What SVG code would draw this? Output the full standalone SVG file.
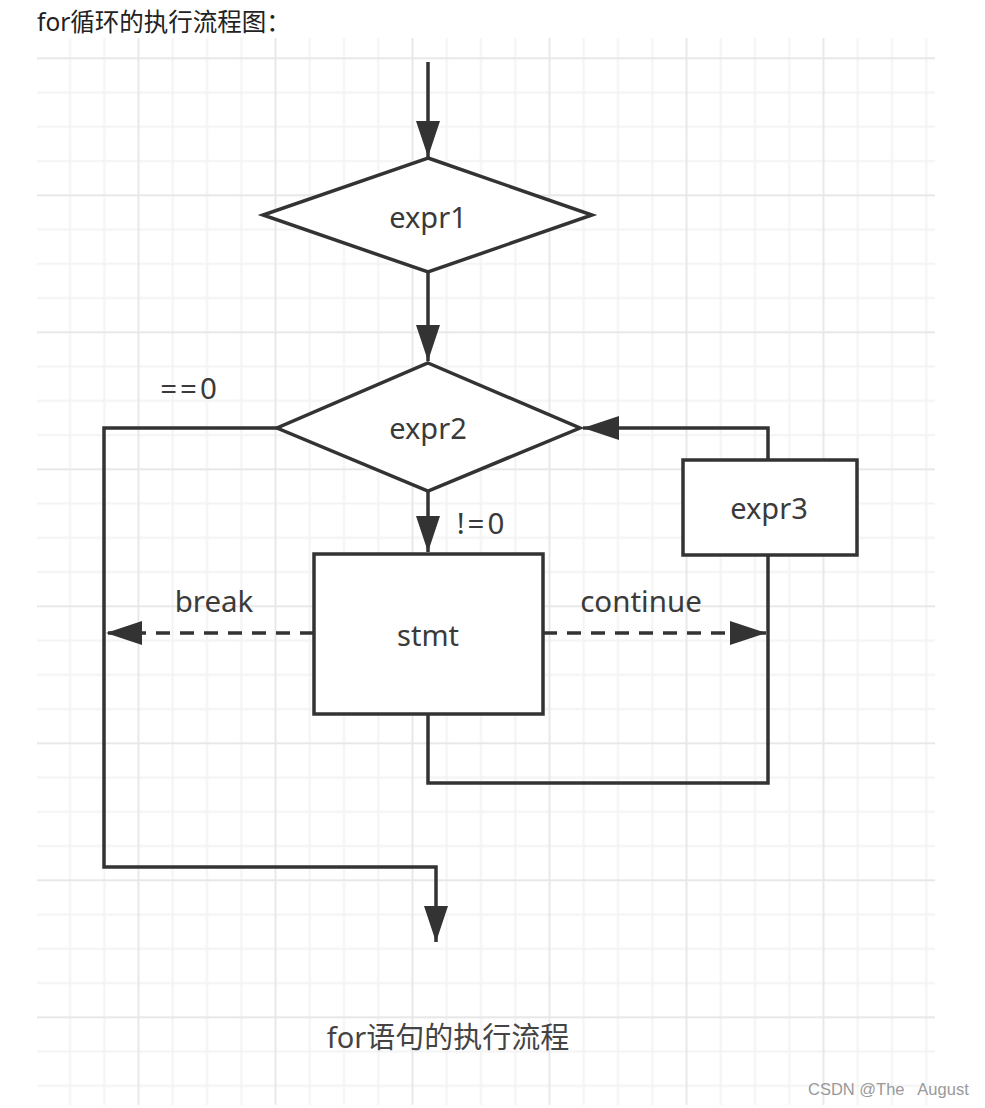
<svg xmlns="http://www.w3.org/2000/svg" width="985" height="1108" viewBox="0 0 985 1108">
<style>
.ln{fill:none;stroke:#333;stroke-width:3.5}
.dash{fill:none;stroke:#333;stroke-width:3.5;stroke-dasharray:14 10}
.shape{fill:#fff;stroke:#333;stroke-width:3.5}
.t{font-family:"Noto Sans","Noto Sans CJK SC",sans-serif;font-size:29px;fill:#3a3a3a;text-anchor:middle;dominant-baseline:central}
.lbl{font-family:"Noto Sans","Noto Sans CJK SC",sans-serif;font-size:29.5px;fill:#3a3a3a;text-anchor:middle;dominant-baseline:central}
</style>
<defs>
<pattern id="grid" x="0.5" y="57.3" width="137" height="137" patternUnits="userSpaceOnUse">
<path d="M35.25 0V137M69.5 0V137M103.75 0V137M0 35.25H137M0 69.5H137M0 103.75H137" stroke="#f3f3f3" stroke-width="2" fill="none"/>
<path d="M1 0V137M0 1H137" stroke="#e8e8e8" stroke-width="2" fill="none"/>
</pattern>
<marker id="ah" viewBox="0 0 36 24" refX="36" refY="12" markerWidth="36" markerHeight="24" markerUnits="userSpaceOnUse" orient="auto">
<path d="M0 0L36 12L0 24Z" fill="#333"/>
</marker>
</defs>
<rect width="985" height="1108" fill="#fff"/>
<rect x="37" y="38" width="898" height="1067" fill="url(#grid)"/>
<text x="37" y="31" font-family="Noto Sans,Noto Sans CJK SC,sans-serif" font-size="24.5" fill="#222">for循环的执行流程图：</text>

<g id="connectors">
<path class="ln" d="M428 62V157" marker-end="url(#ah)"/>
<path class="ln" d="M428 273V361" marker-end="url(#ah)"/>
<path class="ln" d="M428 491V552" marker-end="url(#ah)"/>
<path class="ln" d="M278 428H104V867H436V942" marker-end="url(#ah)"/>
<path class="ln" d="M768 460V428H583" marker-end="url(#ah)"/>
<path class="ln" d="M768 555V783H428V714"/>
<path class="dash" d="M314 633H106" marker-end="url(#ah)"/>
<path class="dash" d="M543 633H766" marker-end="url(#ah)"/>
<text class="lbl" x="190" y="387" letter-spacing="3">==0</text>
<text class="lbl" x="482" y="522" letter-spacing="3">!=0</text>
<text class="lbl" x="214" y="600">break</text>
<text class="lbl" x="641" y="600">continue</text>
</g>

<g id="expr1">
<polygon class="shape" points="428,158 592,215 428,272 263,215"/>
<text class="t" x="428" y="216">expr1</text>
</g>
<g id="expr2">
<polygon class="shape" points="428,363 580,428 428,491 277,428"/>
<text class="t" x="428" y="427">expr2</text>
</g>
<g id="stmt">
<rect class="shape" x="314" y="554" width="229" height="160"/>
<text class="t" x="428" y="634">stmt</text>
</g>
<g id="expr3">
<rect class="shape" x="683" y="460" width="174" height="95"/>
<text class="t" x="769" y="507">expr3</text>
</g>
<text x="448" y="1036" font-family="Noto Sans,Noto Sans CJK SC,sans-serif" font-size="29" fill="#444" text-anchor="middle" dominant-baseline="central">for语句的执行流程</text>
<text x="808" y="1095" font-family="Liberation Sans,Noto Sans,sans-serif" font-size="16.5" fill="#999" xml:space="preserve">CSDN @The   August</text>
</svg>
